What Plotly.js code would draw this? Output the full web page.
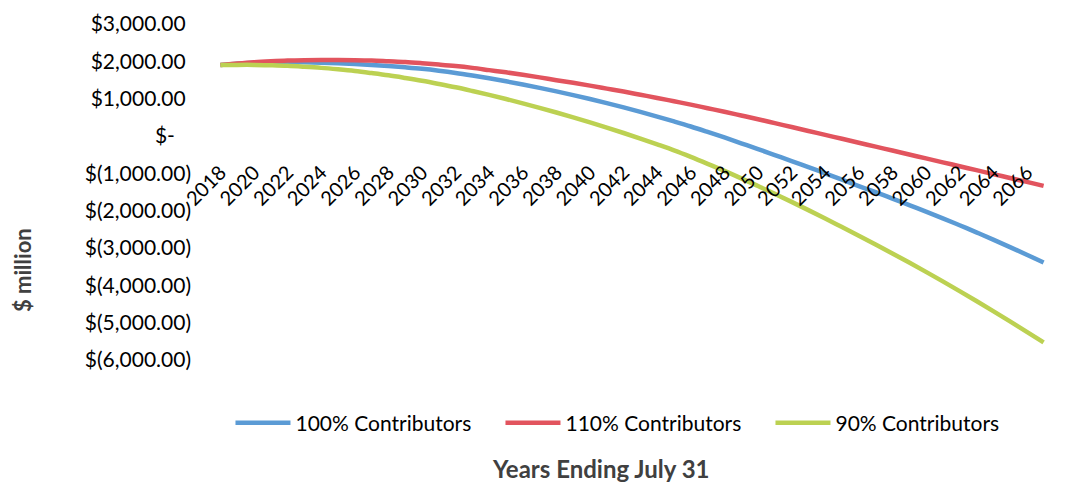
<!DOCTYPE html>
<html>
<head>
<meta charset="utf-8">
<script src="https://cdn.plot.ly/plotly-3.0.1.min.js"></script>
<style>
  html, body { margin: 0; padding: 0; background: #ffffff; }
  #chart { width: 1065px; height: 482px; }
</style>
</head>
<body>
<div id="chart"></div>
<script>
// Years ending July 31
const years = [];
for (let y = 2018; y <= 2067; y++) years.push(y);

// $ million
const contrib100 = [
  1900, 1935, 1960, 1975, 1980, 1975, 1965, 1950, 1930, 1905,
  1875, 1840, 1800, 1750, 1690, 1620, 1545, 1465, 1380, 1290,
  1195, 1095, 990, 880, 765, 645, 520, 390, 255, 110,
  -40, -195, -350, -510, -670, -835, -1000, -1170, -1340, -1505,
  -1675, -1850, -2025, -2205, -2390, -2580, -2775, -2975, -3180, -3390
];
const contrib110 = [
  1900, 1940, 1975, 2000, 2020, 2030, 2035, 2035, 2030, 2020,
  2000, 1980, 1950, 1915, 1875, 1825, 1765, 1705, 1640, 1570,
  1495, 1425, 1350, 1270, 1190, 1105, 1020, 930, 840, 745,
  650, 550, 450, 345, 240, 135, 30, -75, -180, -285,
  -390, -495, -600, -705, -810, -915, -1020, -1125, -1230, -1335
];
const contrib90 = [
  1900, 1905, 1905, 1895, 1880, 1855, 1825, 1785, 1740, 1685,
  1625, 1555, 1480, 1395, 1305, 1205, 1100, 990, 875, 755,
  630, 500, 365, 225, 80, -70, -225, -385, -560, -745,
  -935, -1135, -1340, -1550, -1765, -1985, -2210, -2440, -2670, -2905,
  -3145, -3390, -3640, -3895, -4155, -4420, -4690, -4965, -5245, -5530
];

const yTickVals = [3000, 2000, 1000, 0, -1000, -2000, -3000, -4000, -5000, -6000];
const yTickText = ["$3,000.00\u00a0", "$2,000.00\u00a0", "$1,000.00\u00a0", "$-\u00a0\u00a0\u00a0", "$(1,000.00)",
                   "$(2,000.00)", "$(3,000.00)", "$(4,000.00)", "$(5,000.00)", "$(6,000.00)"];
const xTickVals = [];
for (let y = 2018; y <= 2066; y += 2) xTickVals.push(y);
const xTickText = xTickVals.map(String);

const FONT = "Lato, 'Open Sans', sans-serif";

const traces = [
  { x: years, y: contrib100, name: "100% Contributors", type: "scatter", mode: "lines",
    line: { color: "#5B9BD5", width: 4.5, shape: "spline" } },
  { x: years, y: contrib110, name: "110% Contributors", type: "scatter", mode: "lines",
    line: { color: "#E2545E", width: 4.5, shape: "spline" } },
  { x: years, y: contrib90, name: "90% Contributors", type: "scatter", mode: "lines",
    line: { color: "#BCD152", width: 4.5, shape: "spline" } }
];

const layout = {
  width: 1065, height: 482,
  margin: { l: 212, r: 13, t: 24, b: 122 },
  paper_bgcolor: "#ffffff", plot_bgcolor: "#ffffff",
  font: { family: FONT, color: "#000000" },
  showlegend: true,
  xaxis: {
    type: "linear", range: [2017.5, 2067.5],
    anchor: "free", position: 6000 / 9000,
    tickmode: "array", tickvals: xTickVals, ticktext: xTickText,
    tickangle: -45, ticks: "", ticklabelstandoff: 20,
    showgrid: false, zeroline: false, showline: false,
    tickfont: { family: FONT, size: 20, color: "#000000" }
  },
  yaxis: {
    range: [-6000, 3000],
    tickmode: "array", tickvals: yTickVals, ticktext: yTickText,
    ticks: "", ticklabelstandoff: 20,
    showgrid: false, zeroline: false, showline: false,
    tickfont: { family: FONT, size: 21, color: "#000000" }
  },
  legend: {
    orientation: "h", x: 0.022, xanchor: "left", y: -0.1875, yanchor: "middle",
    entrywidth: 200, entrywidthmode: "pixels", itemwidth: 55,
    font: { family: FONT, size: 21, color: "#000000" },
    bgcolor: "rgba(0,0,0,0)"
  },
  annotations: [
    { text: "<b>$ million</b>", xref: "paper", yref: "paper",
      x: (22 - 212) / 840, y: (360 - 270) / 336, xanchor: "center", yanchor: "middle",
      textangle: -90, showarrow: false,
      font: { family: FONT, size: 22, color: "#404040" } },
    { text: "<b>Years Ending July 31</b>", xref: "paper", yref: "paper",
      x: (600 - 212) / 840, y: (360 - 468) / 336, xanchor: "center", yanchor: "middle",
      showarrow: false,
      font: { family: FONT, size: 24, color: "#404040" } }
  ]
};

Plotly.newPlot("chart", traces, layout, { displayModeBar: false, staticPlot: true });
</script>
</body>
</html>
